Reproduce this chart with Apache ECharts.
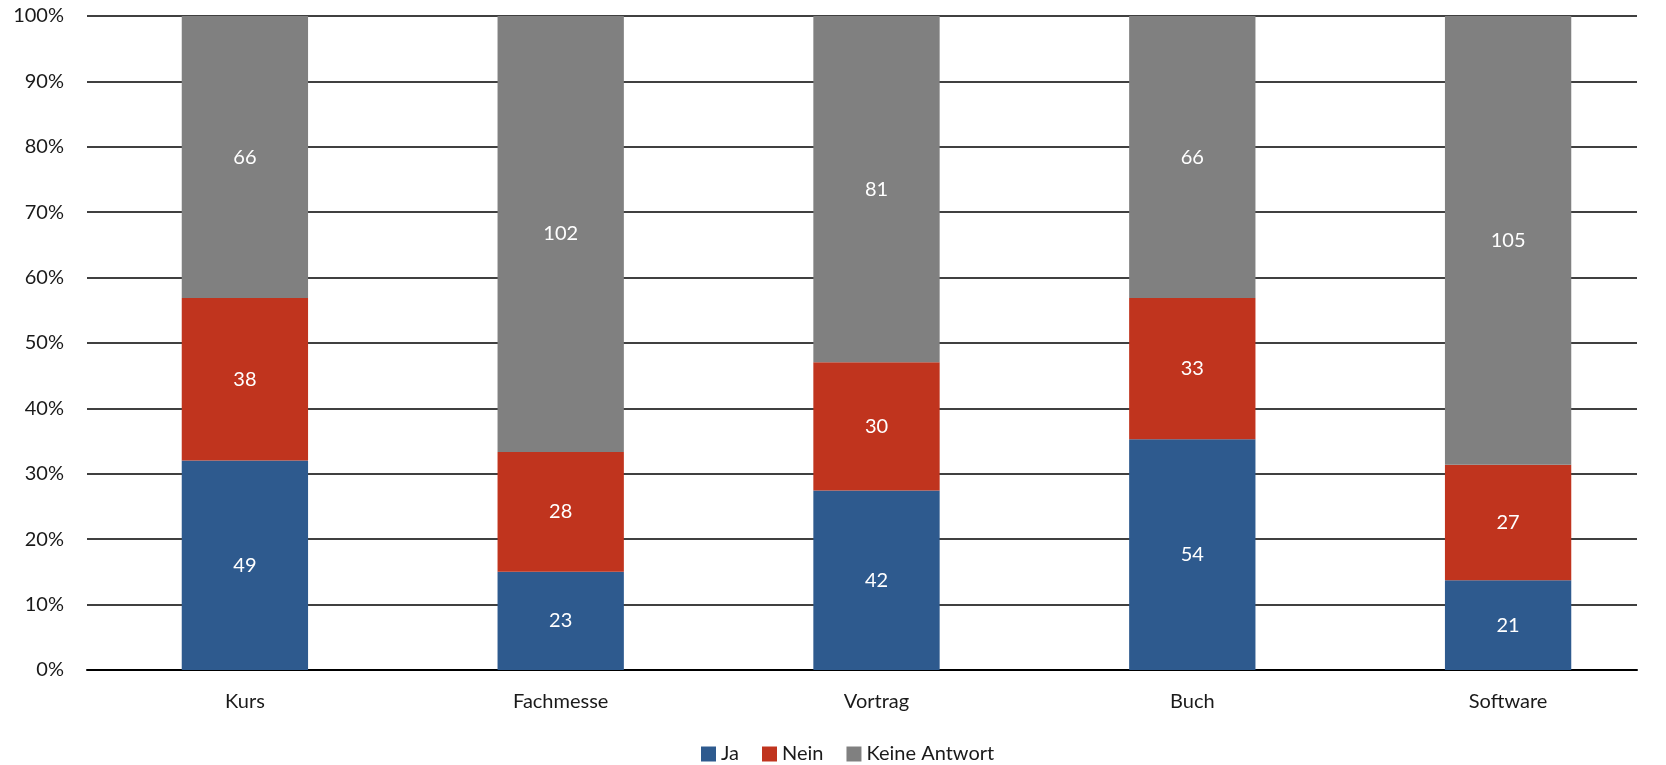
<!DOCTYPE html>
<html>
<head>
<meta charset="utf-8">
<script src="https://cdn.jsdelivr.net/npm/echarts@6/dist/echarts.min.js"></script>
<style>
  html, body { margin: 0; padding: 0; background: #fff; }
  #panel { width: 1666px; height: 765px; }
</style>
</head>
<body>
<div id="panel"></div>
<script>
const categories = ['Kurs', 'Fachmesse', 'Vortrag', 'Buch', 'Software'];
const ja = [49, 23, 42, 54, 21];
const nein = [38, 28, 30, 33, 27];
const keineAntwort = [66, 102, 81, 66, 105];
const yTicks = [0, 10, 20, 30, 40, 50, 60, 70, 80, 90, 100];

const FONT = 'Lato, "Open Sans", sans-serif';
const COLORS = ['#2E5A8E', '#C0341E', '#808080'];

// totals per category, to turn counts into shares
const totals = categories.map((c, i) => ja[i] + nein[i] + keineAntwort[i]);
const toPct = (arr) => arr.map((v, i) => ({ value: (v / totals[i]) * 100, count: v }));

const makeSeries = (name, arr) => ({
  name: name,
  type: 'bar',
  stack: 'total',
  barWidth: '40%',
  xAxisIndex: 0,
  yAxisIndex: 0,
  data: toPct(arr),
  label: {
    show: true,
    position: 'inside',
    color: '#fff',
    fontFamily: FONT,
    fontSize: 20,
    formatter: (p) => p.data.count,
  },
});

const myChart = echarts.init(document.getElementById('panel'), null, { renderer: 'canvas' });

const option = {
  animation: false,
  color: COLORS,
  grid: [
    // bars: category band runs a little past the visible gridlines
    { left: 87, right: -4, top: 16, bottom: 95 },
    // gridlines + y labels
    { left: 87, right: 29, top: 16, bottom: 95 },
  ],
  legend: {
    top: 739,
    left: 696,
    itemWidth: 15,
    itemHeight: 15,
    itemGap: 23,
    icon: 'rect',
    textStyle: { fontFamily: FONT, fontSize: 20, color: '#1a1a1a' },
    data: ['Ja', 'Nein', 'Keine Antwort'],
  },
  xAxis: [
    {
      gridIndex: 0,
      type: 'category',
      data: categories,
      axisTick: { show: false },
      axisLine: { show: false },
      axisLabel: { fontFamily: FONT, fontSize: 20, color: '#1a1a1a', margin: 22 },
    },
    {
      gridIndex: 1,
      type: 'value',
      min: 0,
      max: 1,
      axisLabel: { show: false },
      axisTick: { show: false },
      splitLine: { show: false },
      axisLine: { onZero: false, lineStyle: { color: '#000', width: 2 } },
    },
  ],
  yAxis: [
    {
      gridIndex: 0,
      type: 'value',
      min: yTicks[0],
      max: yTicks[yTicks.length - 1],
      interval: 10,
      show: false,
    },
    {
      gridIndex: 1,
      type: 'value',
      min: yTicks[0],
      max: yTicks[yTicks.length - 1],
      interval: 10,
      axisLine: { show: false },
      axisTick: { show: false },
      splitLine: { lineStyle: { color: '#000', width: 1.5 } },
      axisLabel: { fontFamily: FONT, fontSize: 20, color: '#1a1a1a', margin: 23, formatter: '{value}%' },
    },
  ],
  series: [
    makeSeries('Ja', ja),
    makeSeries('Nein', nein),
    makeSeries('Keine Antwort', keineAntwort),
  ],
};
myChart.setOption(option);
</script>
</body>
</html>
